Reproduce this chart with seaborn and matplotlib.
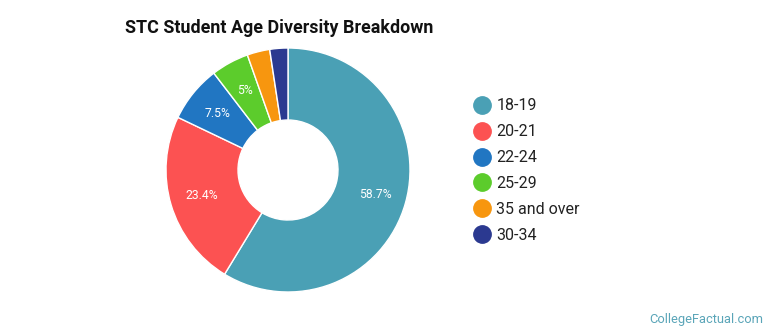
import matplotlib
matplotlib.use("Agg")
import matplotlib.pyplot as plt
import seaborn as sns
import numpy as np
from matplotlib.lines import Line2D

categories = ["18-19", "20-21", "22-24", "25-29", "35 and over", "30-34"]
values = [58.7, 23.4, 7.5, 5.0, 3.0, 2.4]
pct_labels = ["58.7%", "23.4%", "7.5%", "5%", "", ""]
colors = ["#4aa0b5", "#fc5252", "#2176c2", "#5ccc2c", "#f7960f", "#2b3990"]

sns.set_theme(style="white")
plt.rcParams['font.family'] = ['Roboto', 'DejaVu Sans']

fig = plt.figure(figsize=(7.7, 3.35), dpi=100)
fig.patch.set_facecolor("white")

ax = fig.add_axes([(288 - 122) / 770, (335 - 292) / 335, 244 / 770, 244 / 335])
palette = sns.color_palette(colors)
wedges, _ = ax.pie(values, colors=palette, startangle=90, counterclock=False,
                   radius=1.0,
                   wedgeprops=dict(width=1 - 50 / 122, edgecolor="white", linewidth=1.0))
total = sum(values)
cum = 0.0
for v, lab in zip(values, pct_labels):
    mid = cum + v / 2
    cum += v
    if not lab:
        continue
    ang = np.deg2rad(90 - 360 * mid / total)
    r = 0.74
    ax.text(r * np.cos(ang), r * np.sin(ang), lab, ha="center", va="center",
            color="white", fontsize=8.7)
ax.set_xlim(-1, 1)
ax.set_ylim(-1, 1)
ax.set_aspect("equal")
ax.axis("off")

fig.text(125 / 770, 1 - 28 / 335, "STC Student Age Diversity Breakdown",
         fontsize=12.9, fontweight="bold", color="#111111", ha="left", va="center")

handles = [Line2D([0], [0], marker="o", linestyle="", markersize=12.5,
                  markerfacecolor=c, markeredgecolor=c) for c in palette]
leg = fig.legend(handles, categories, loc="upper left",
                 bbox_to_anchor=(466 / 770, 1 - 92 / 335), frameon=False,
                 fontsize=11.5, handletextpad=0.3, labelspacing=0.68,
                 handlelength=1.2, borderaxespad=0)
for t in leg.get_texts():
    t.set_color("#222222")

fig.text(763 / 770, 1 - 320 / 335, "CollegeFactual.com", fontsize=9.3,
         color="#5aa5b8", ha="right", va="center")

fig.savefig("out.png", dpi=100, facecolor="white")
